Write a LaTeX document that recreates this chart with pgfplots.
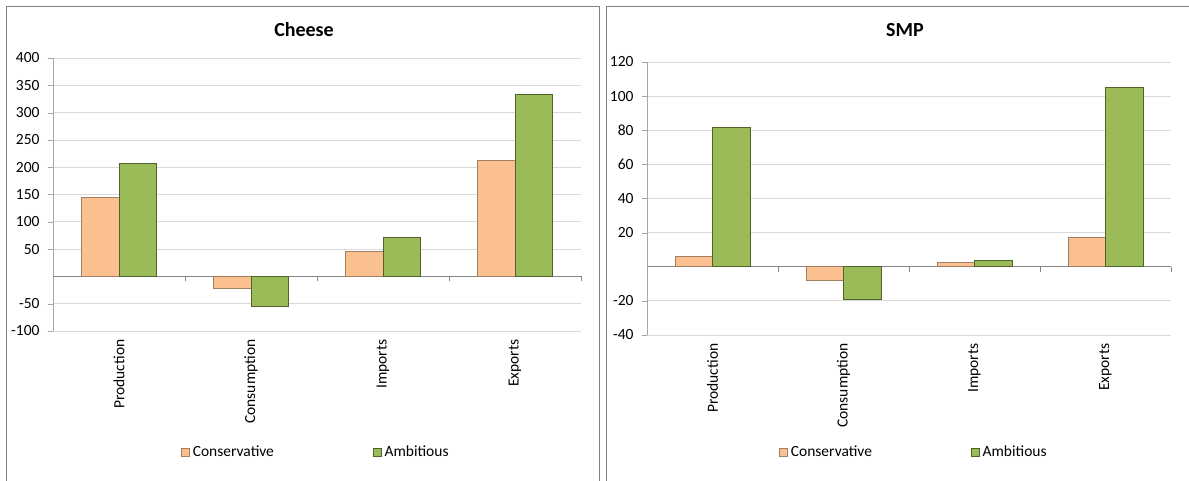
\documentclass[border=0pt]{standalone}
\usepackage{fontspec}
\setmainfont{Carlito}
\usepackage{pgfplots}
\pgfplotsset{compat=1.18}
\definecolor{cons}{HTML}{FAC090}
\definecolor{consedge}{HTML}{A08060}
\definecolor{amb}{HTML}{9BBB59}
\definecolor{ambedge}{HTML}{4F6228}
\definecolor{gridc}{HTML}{D9D9D9}
\definecolor{axc}{HTML}{A6A6A6}
\definecolor{zeroc}{HTML}{868686}
\definecolor{framec}{HTML}{7F7F7F}
\newcommand{\fs}{\fontsize{15.5}{18}\selectfont}
\tikzset{zt/.style={zeroc, line width=0.8pt}}
\pgfplotsset{
  excel/.style={
    scale only axis,
    ybar=0pt, bar width=37.5pt,
    xmin=0.5, xmax=4.5,
    xtick={1,2,3,4},
    xticklabels={Production,Consumption,Imports,Exports},
    xticklabel style={rotate=90, anchor=east, font=\fs},
    yticklabel style={font=\fs, xshift=-5pt},
    axis lines*=left,
    x axis line style={draw=none},
    y axis line style={draw=axc},
    xtick style={draw=none},
    ytick style={draw=axc},
    tick align=outside,
    major tick length=5pt,
    ymajorgrids,
    grid style={draw=gridc, line width=0.8pt},
    extra y tick style={grid style={draw=zeroc, line width=0.8pt}, major tick length=0pt},
    legend columns=2,
    legend style={draw=none, fill=none, font=\fs, anchor=west, inner xsep=0pt,
      /tikz/every even column/.append style={column sep=96pt},
      nodes={inner xsep=3pt}},
    legend image code/.code={\draw[#1, line width=0.6pt] (0pt,-4pt) rectangle (8pt,4pt);},
    clip=false,
  },
  consb/.style={fill=cons, draw=consedge, line width=0.7pt},
  ambb/.style={fill=amb, draw=ambedge, line width=0.7pt},
}
\begin{document}
\begin{tikzpicture}
\useasboundingbox (0,0) rectangle (1189pt,480pt);
\draw[framec, line width=1pt] (6pt,-5pt) -- (6pt,473pt) -- (599pt,473pt) -- (599pt,-5pt);
\draw[framec, line width=1pt] (606pt,-5pt) -- (606pt,473pt) -- (1200pt,473pt);
\node[font=\fontsize{20}{23}\selectfont\bfseries] at (304pt,450pt) {Cheese};
\node[font=\fontsize{20}{23}\selectfont\bfseries] at (905pt,450pt) {SMP};

\begin{axis}[excel,
  at={(53pt,149pt)}, anchor=south west,
  width=528pt, height=273pt,
  ymin=-100, ymax=400,
  ytick={-100,-50,50,100,150,200,250,300,350,400},
  yticklabels={-100,-50,50,100,150,200,250,300,350,400},
  extra y ticks={0}, extra y tick labels={},
  legend style={at={(0.2424,-0.443)}},
]
\addplot[consb] coordinates {(1,144) (2,-22) (3,46) (4,213)};
\addplot[ambb] coordinates {(1,207) (2,-54) (3,71) (4,333)};
\legend{Conservative,Ambitious}
\draw[zt] (axis cs:1.5,0) -- ([yshift=-5pt]axis cs:1.5,0);
\draw[zt] (axis cs:2.5,0) -- ([yshift=-5pt]axis cs:2.5,0);
\draw[zt] (axis cs:3.5,0) -- ([yshift=-5pt]axis cs:3.5,0);
\draw[zt] (axis cs:4.5,0) -- ([yshift=-5pt]axis cs:4.5,0);
\end{axis}

\begin{axis}[excel,
  at={(647pt,145pt)}, anchor=south west,
  width=524pt, height=273pt,
  ymin=-40, ymax=120,
  ytick={-40,-20,20,40,60,80,100,120},
  yticklabels={-40,-20,20,40,60,80,100,120},
  extra y ticks={0}, extra y tick labels={},
  legend style={at={(0.252,-0.429)}},
]
\addplot[consb] coordinates {(1,6) (2,-8.2) (3,2.5) (4,17.4)};
\addplot[ambb] coordinates {(1,81.8) (2,-19.2) (3,3.9) (4,105)};
\legend{Conservative,Ambitious}
\draw[zt] (axis cs:1.5,0) -- ([yshift=-5pt]axis cs:1.5,0);
\draw[zt] (axis cs:2.5,0) -- ([yshift=-5pt]axis cs:2.5,0);
\draw[zt] (axis cs:3.5,0) -- ([yshift=-5pt]axis cs:3.5,0);
\draw[zt] (axis cs:4.5,0) -- ([yshift=-5pt]axis cs:4.5,0);
\end{axis}
\end{tikzpicture}
\end{document}
